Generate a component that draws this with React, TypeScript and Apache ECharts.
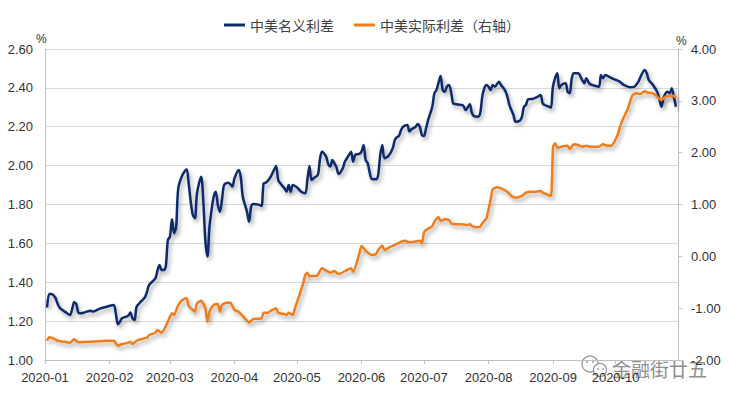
import React, { useEffect, useRef } from "react";
import * as echarts from "echarts";

const nominalDates = [
  "2020-01-02","2020-01-03","2020-01-04","2020-01-06","2020-01-07","2020-01-08","2020-01-09","2020-01-11","2020-01-13","2020-01-14",
  "2020-01-15","2020-01-16","2020-01-17","2020-01-18","2020-01-20","2020-01-23","2020-01-24","2020-01-27","2020-01-31","2020-02-03",
  "2020-02-04","2020-02-05","2020-02-06","2020-02-07","2020-02-09","2020-02-10","2020-02-11","2020-02-12","2020-02-13","2020-02-14",
  "2020-02-16","2020-02-18","2020-02-19","2020-02-20","2020-02-23","2020-02-24","2020-02-25","2020-02-26","2020-02-27","2020-02-28",
  "2020-02-29","2020-03-01","2020-03-02","2020-03-03","2020-03-04","2020-03-05","2020-03-07","2020-03-09","2020-03-10","2020-03-11",
  "2020-03-12","2020-03-13","2020-03-14","2020-03-16","2020-03-17","2020-03-18","2020-03-19","2020-03-20","2020-03-21","2020-03-22",
  "2020-03-23","2020-03-24","2020-03-25","2020-03-26","2020-03-27","2020-03-29","2020-03-30","2020-03-31","2020-04-01","2020-04-03",
  "2020-04-04","2020-04-05","2020-04-07","2020-04-08","2020-04-09","2020-04-10","2020-04-13","2020-04-14","2020-04-15","2020-04-16",
  "2020-04-18","2020-04-20","2020-04-21","2020-04-22","2020-04-23","2020-04-25","2020-04-26","2020-04-27","2020-04-28","2020-04-29",
  "2020-05-01","2020-05-03","2020-05-05","2020-05-06","2020-05-07","2020-05-08","2020-05-09","2020-05-11","2020-05-12","2020-05-13",
  "2020-05-15","2020-05-16","2020-05-17","2020-05-18","2020-05-19","2020-05-20","2020-05-21","2020-05-23","2020-05-24","2020-05-26",
  "2020-05-27","2020-05-28","2020-05-29","2020-05-31","2020-06-01","2020-06-02","2020-06-03","2020-06-04","2020-06-05","2020-06-06",
  "2020-06-08","2020-06-09","2020-06-10","2020-06-11","2020-06-12","2020-06-14","2020-06-16","2020-06-17","2020-06-18","2020-06-19",
  "2020-06-20","2020-06-21","2020-06-23","2020-06-24","2020-06-25","2020-06-27","2020-06-28","2020-06-29","2020-06-30","2020-07-01",
  "2020-07-02","2020-07-03","2020-07-05","2020-07-06","2020-07-07","2020-07-08","2020-07-09","2020-07-10","2020-07-11","2020-07-12",
  "2020-07-13","2020-07-14","2020-07-15","2020-07-16","2020-07-19","2020-07-20","2020-07-21","2020-07-23","2020-07-24","2020-07-25",
  "2020-07-27","2020-07-28","2020-07-29","2020-07-30","2020-07-31","2020-08-01","2020-08-02","2020-08-03","2020-08-04","2020-08-06",
  "2020-08-07","2020-08-09","2020-08-10","2020-08-11","2020-08-13","2020-08-14","2020-08-16","2020-08-17","2020-08-18","2020-08-19",
  "2020-08-20","2020-08-22","2020-08-24","2020-08-26","2020-08-27","2020-08-28","2020-08-30","2020-08-31","2020-09-01","2020-09-03",
  "2020-09-04","2020-09-05","2020-09-07","2020-09-08","2020-09-09","2020-09-10","2020-09-11","2020-09-13","2020-09-15","2020-09-16",
  "2020-09-17","2020-09-18","2020-09-19","2020-09-21","2020-09-23","2020-09-24","2020-09-25","2020-09-26","2020-09-28","2020-09-30",
  "2020-10-03","2020-10-05","2020-10-08","2020-10-10","2020-10-12","2020-10-13","2020-10-15","2020-10-16","2020-10-17","2020-10-19",
  "2020-10-21","2020-10-22","2020-10-23","2020-10-24","2020-10-25","2020-10-26","2020-10-27","2020-10-28","2020-10-29","2020-10-30",
];

const nominalValues = [
  1.27,1.34,1.34,1.32,1.29,1.27,1.26,1.245,1.232,1.26,
  1.297,1.288,1.244,1.24,1.245,1.254,1.249,1.263,1.275,1.283,
  1.24,1.184,1.197,1.215,1.223,1.228,1.244,1.215,1.206,1.274,
  1.30,1.323,1.351,1.386,1.42,1.46,1.489,1.463,1.463,1.48,
  1.617,1.634,1.724,1.652,1.686,1.883,1.952,1.981,1.909,1.814,
  1.746,1.729,1.858,1.943,1.823,1.617,1.532,1.686,1.772,1.84,
  1.866,1.798,1.763,1.823,1.90,1.912,1.905,1.892,1.935,1.978,
  1.943,1.84,1.763,1.711,1.789,1.803,1.798,1.792,1.909,1.912,
  1.935,1.978,1.998,1.926,1.909,1.883,1.866,1.90,1.866,1.90,
  1.888,1.866,1.858,1.926,1.998,1.926,1.935,1.952,2.029,2.072,
  2.046,2.008,1.995,2.029,2.012,1.991,1.957,1.986,2.02,2.055,
  2.072,2.02,2.055,2.06,2.072,2.106,2.029,2.012,1.961,1.931,
  1.93,1.952,2.055,2.106,2.038,2.05,2.089,2.132,2.146,2.153,
  2.183,2.20,2.209,2.175,2.187,2.20,2.214,2.20,2.158,2.153,
  2.192,2.235,2.303,2.372,2.389,2.427,2.461,2.389,2.38,2.406,
  2.415,2.38,2.32,2.317,2.312,2.307,2.286,2.316,2.272,2.255,
  2.252,2.269,2.355,2.398,2.415,2.406,2.389,2.415,2.406,2.432,
  2.415,2.386,2.358,2.312,2.26,2.226,2.231,2.249,2.303,2.312,
  2.341,2.343,2.351,2.363,2.32,2.312,2.303,2.298,2.41,2.475,
  2.398,2.415,2.424,2.38,2.372,2.449,2.475,2.475,2.44,2.424,
  2.449,2.429,2.418,2.411,2.406,2.466,2.449,2.466,2.457,2.446,
  2.432,2.415,2.403,2.406,2.432,2.457,2.492,2.475,2.44,2.415,
  2.38,2.346,2.303,2.346,2.372,2.38,2.372,2.398,2.355,2.303,
];

const realDates = [
  "2020-01-02","2020-01-03","2020-01-05","2020-01-07","2020-01-10","2020-01-13","2020-01-15","2020-01-17","2020-01-23","2020-01-31",
  "2020-02-03","2020-02-05","2020-02-07","2020-02-10","2020-02-11","2020-02-12","2020-02-14","2020-02-16","2020-02-19","2020-02-20",
  "2020-02-23","2020-02-24","2020-02-26","2020-02-28","2020-02-29","2020-03-02","2020-03-03","2020-03-05","2020-03-07","2020-03-09",
  "2020-03-10","2020-03-12","2020-03-13","2020-03-14","2020-03-16","2020-03-18","2020-03-19","2020-03-20","2020-03-22","2020-03-24",
  "2020-03-25","2020-03-26","2020-03-28","2020-03-30","2020-04-01","2020-04-03","2020-04-06","2020-04-08","2020-04-10","2020-04-14",
  "2020-04-15","2020-04-17","2020-04-19","2020-04-21","2020-04-22","2020-04-25","2020-04-26","2020-04-27","2020-04-29","2020-04-30",
  "2020-05-02","2020-05-04","2020-05-05","2020-05-06","2020-05-07","2020-05-10","2020-05-11","2020-05-13","2020-05-15","2020-05-17",
  "2020-05-19","2020-05-20","2020-05-21","2020-05-25","2020-05-27","2020-05-28","2020-05-31","2020-06-01","2020-06-03","2020-06-06",
  "2020-06-08","2020-06-09","2020-06-11","2020-06-12","2020-06-15","2020-06-18","2020-06-20","2020-06-22","2020-06-24","2020-06-26",
  "2020-06-29","2020-06-30","2020-07-01","2020-07-02","2020-07-05","2020-07-06","2020-07-08","2020-07-09","2020-07-11","2020-07-13",
  "2020-07-14","2020-07-16","2020-07-19","2020-07-22","2020-07-23","2020-07-24","2020-07-26","2020-07-28","2020-07-29","2020-07-30",
  "2020-07-31","2020-08-02","2020-08-03","2020-08-05","2020-08-07","2020-08-10","2020-08-12","2020-08-14","2020-08-17","2020-08-19",
  "2020-08-21","2020-08-24","2020-08-26","2020-08-27","2020-08-29","2020-08-31","2020-09-01","2020-09-02","2020-09-03","2020-09-05",
  "2020-09-08","2020-09-09","2020-09-11","2020-09-13","2020-09-15","2020-09-17","2020-09-19","2020-09-23","2020-09-25","2020-09-27",
  "2020-09-29","2020-09-30","2020-10-02","2020-10-04","2020-10-07","2020-10-09","2020-10-11","2020-10-13","2020-10-15","2020-10-16",
  "2020-10-19","2020-10-21","2020-10-23","2020-10-25","2020-10-27","2020-10-29","2020-10-30",
];

const realValues = [
  -1.628,-1.563,-1.582,-1.628,-1.647,-1.667,-1.60,-1.659,-1.647,-1.63,
  -1.628,-1.724,-1.692,-1.667,-1.647,-1.692,-1.628,-1.60,-1.57,-1.518,
  -1.474,-1.422,-1.474,-1.35,-1.262,-1.10,-1.132,-0.939,-0.843,-0.81,
  -0.958,-1.036,-1.068,-0.907,-0.856,-1.003,-1.262,-1.068,-0.939,-0.92,
  -1.068,-0.939,-0.895,-0.895,-1.036,-1.068,-1.196,-1.281,-1.209,-1.196,
  -1.088,-1.088,-1.036,-1.003,-1.088,-1.113,-1.132,-1.088,-1.132,-1.003,
  -0.77,-0.52,-0.36,-0.316,-0.38,-0.38,-0.36,-0.231,-0.277,-0.316,
  -0.283,-0.316,-0.341,-0.264,-0.231,-0.297,0.058,0.199,0.109,0.026,
  0.045,0.122,0.205,0.122,0.186,0.238,0.282,0.301,0.27,0.282,
  0.301,0.251,0.456,0.508,0.585,0.668,0.753,0.687,0.714,0.70,
  0.637,0.618,0.618,0.604,0.624,0.585,0.56,0.572,0.637,0.687,
  0.733,1.087,1.293,1.332,1.312,1.247,1.164,1.131,1.164,1.228,
  1.247,1.247,1.26,1.228,1.196,1.164,2.115,2.18,2.096,2.115,
  2.134,2.071,2.161,2.148,2.115,2.134,2.115,2.115,2.161,2.134,
  2.134,2.18,2.341,2.598,2.856,3.099,3.145,3.132,3.19,3.165,
  3.145,3.08,3.016,3.08,3.099,3.099,3.049,
];

const leftTicks = { min: 1.0, max: 2.6, interval: 0.2 };
const rightTicks = { min: -2.0, max: 4.0, interval: 1.0 };
const seriesNames = ["中美名义利差", "中美实际利差（右轴）"];
const watermarkText = "金融街廿五";

const BLUE = "#0D2B6B";
const ORANGE = "#EE7D1F";
const DAY = 86400000;

export default function App() {
  const ref = useRef<HTMLDivElement>(null);
  useEffect(() => {
    const chart = echarts.init(ref.current!, null, { renderer: "svg" });
    const shadow = {
      shadowColor: "rgba(0,0,0,0.35)",
      shadowBlur: 4,
      shadowOffsetX: 2,
      shadowOffsetY: 3,
    };
    const monthFmt = (v: number) => {
      const d = new Date(v);
      return d.getFullYear() + "-" + String(d.getMonth() + 1).padStart(2, "0");
    };
    chart.setOption({
      animation: false,
      backgroundColor: "#ffffff",
      textStyle: { fontFamily: "'Liberation Sans', 'Noto Sans CJK SC', sans-serif" },
      grid: { left: 45, right: 51, top: 49, bottom: 40, containLabel: false },
      legend: {
        left: 219,
        top: 13,
        icon: "rect",
        itemWidth: 21,
        itemHeight: 3,
        itemGap: 20,
        data: [
          { name: seriesNames[0], itemStyle: { color: BLUE } },
          { name: seriesNames[1], itemStyle: { color: ORANGE } },
        ],
        itemStyle: { borderWidth: 0, shadowBlur: 0, shadowColor: "transparent" },
        textStyle: { fontSize: 14, color: "#404040", fontFamily: "'Noto Sans CJK SC', sans-serif" },
      },
      xAxis: {
        type: "time",
        min: +new Date(2020, 0, 1),
        max: +new Date(2020, 9, 31),
        splitNumber: 10,
        minInterval: 28 * DAY,
        maxInterval: 31 * DAY,
        axisLine: { show: true, onZero: false, lineStyle: { color: "#bfbfbf" } },
        axisTick: { show: true, length: 4, lineStyle: { color: "#bfbfbf" } },
        axisLabel: {
          formatter: monthFmt,
          color: "#333",
          fontSize: 13,
          margin: 11,
          showMaxLabel: false,
        },
        splitLine: { show: false },
      },
      yAxis: [
        {
          type: "value",
          position: "left",
          min: leftTicks.min,
          max: leftTicks.max,
          interval: leftTicks.interval,
          axisLine: { show: true, lineStyle: { color: "#bfbfbf" } },
          axisTick: { show: false },
          axisLabel: { formatter: (v: number) => v.toFixed(2), color: "#333", fontSize: 13, margin: 12 },
          splitLine: { show: true, lineStyle: { color: "#d9d9d9", width: 1 } },
        },
        {
          type: "value",
          position: "right",
          min: rightTicks.min,
          max: rightTicks.max,
          interval: rightTicks.interval,
          axisLine: { show: true, lineStyle: { color: "#bfbfbf" } },
          axisTick: { show: true, length: 4, lineStyle: { color: "#bfbfbf" } },
          axisLabel: { formatter: (v: number) => v.toFixed(2), color: "#333", fontSize: 13, margin: 13 },
          splitLine: { show: false },
        },
      ],
      series: [
        {
          name: seriesNames[0],
          type: "line",
          yAxisIndex: 0,
          data: nominalDates.map((d, i) => [d, nominalValues[i]]),
          symbol: "none",
          smooth: 0.3,
          lineStyle: { color: BLUE, width: 2.5, ...shadow },
          itemStyle: { color: BLUE },
        },
        {
          name: seriesNames[1],
          type: "line",
          yAxisIndex: 1,
          data: realDates.map((d, i) => [d, realValues[i]]),
          symbol: "none",
          smooth: 0.2,
          lineStyle: { color: ORANGE, width: 2.5, ...shadow },
          itemStyle: { color: ORANGE },
        },
      ],
      graphic: [
        { type: "text", left: 36, top: 33, style: { text: "%", fontSize: 12, fill: "#333", fontFamily: "'Liberation Sans', sans-serif" } },
        { type: "text", left: 676, top: 35, style: { text: "%", fontSize: 12, fill: "#333", fontFamily: "'Liberation Sans', sans-serif" } },
        {
          type: "group",
          z: 100,
          children: [
            { type: "circle", shape: { cx: 590, cy: 364, r: 8 }, style: { fill: "#fff", stroke: "#9a9a9a", lineWidth: 1.3 } },
            { type: "circle", shape: { cx: 600, cy: 370, r: 6.5 }, style: { fill: "#fff", stroke: "#9a9a9a", lineWidth: 1.3 } },
            { type: "circle", shape: { cx: 587, cy: 362, r: 1 }, style: { fill: "#9a9a9a" } },
            { type: "circle", shape: { cx: 593, cy: 362, r: 1 }, style: { fill: "#9a9a9a" } },
            { type: "circle", shape: { cx: 598, cy: 369, r: 0.9 }, style: { fill: "#9a9a9a" } },
            { type: "circle", shape: { cx: 603, cy: 369, r: 0.9 }, style: { fill: "#9a9a9a" } },
            {
              type: "text",
              x: 612,
              y: 368,
              style: {
                text: watermarkText,
                fontSize: 19,
                fill: "#8e8e8e",
                stroke: "#ffffff",
                lineWidth: 2,
                verticalAlign: "middle",
                fontFamily: "'Noto Sans CJK SC', sans-serif",
              },
            },
          ],
        },
      ],
    });
    return () => chart.dispose();
  }, []);
  return (
    <div
      ref={ref}
      style={{ position: "fixed", left: 0, top: 0, width: 729, height: 400, background: "#fff" }}
    />
  );
}
